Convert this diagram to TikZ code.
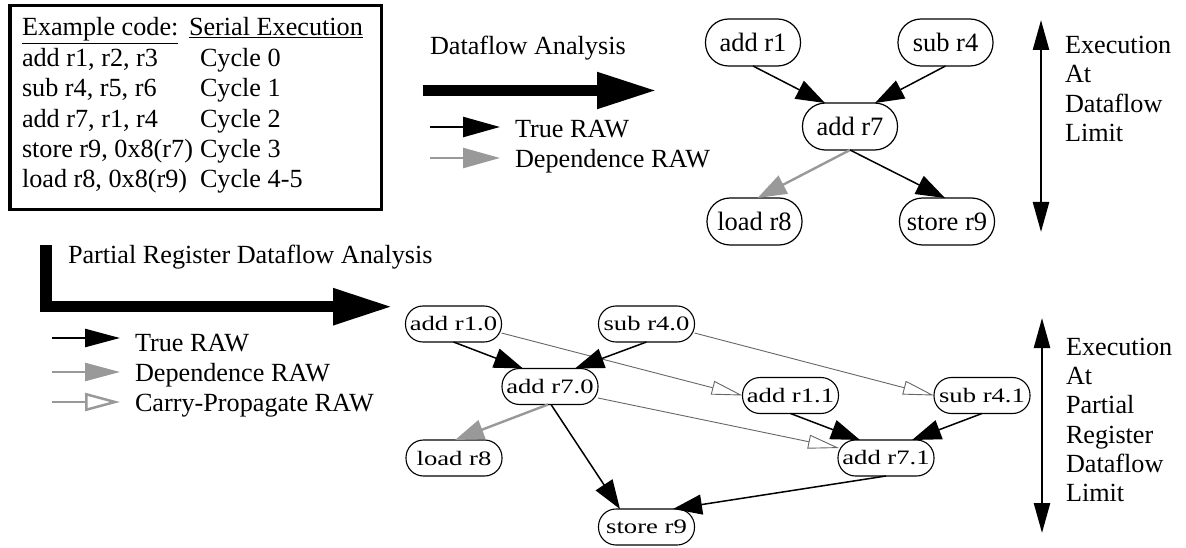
\documentclass[tikz,border=0pt]{standalone}
\usepackage{fontspec}
\setmainfont{Liberation Serif}
\usepackage{graphicx}
\usetikzlibrary{arrows.meta}
\definecolor{depgray}{gray}{0.6}
\definecolor{carrygray}{gray}{0.4}
\newcommand\sxt[1]{\scalebox{1.3}[1]{#1}}
\begin{document}
\begin{tikzpicture}[x=1pt,y=-1pt,
  every node/.style={inner sep=0pt, outer sep=0pt},
  topnode/.style={draw, line width=1.2pt, rounded corners=23pt, minimum width=95pt, minimum height=47pt, font=\fontsize{26.5}{30}\selectfont},
  botnode/.style={draw, line width=1.1pt, rounded corners=17.5pt, minimum width=96pt, minimum height=36pt, font=\fontsize{20.5}{24}\selectfont},
  lbl/.style={anchor=base west, font=\fontsize{26.2}{30}\selectfont},
  truearr/.style={line width=1.5pt, -{Triangle[length=29pt,width=20pt]}},
  deparr/.style={depgray, line width=2.4pt, -{Triangle[length=29pt,width=20pt]}},
  carryarr/.style={carrygray, line width=0.9pt, -{Triangle[open,length=31pt,width=14pt,fill=white]}},
  bigarr/.style={line width=11pt, -{Triangle[length=60pt,width=34pt]}},
  vertarr/.style={line width=2.5pt, {Triangle[length=30pt,width=16pt]}-{Triangle[length=30pt,width=16pt]}},
]
\useasboundingbox (0,0) rectangle (1186,548);

% code box
\draw[line width=3.3pt] (10,5.7) rectangle (381.5,209.5);
\node[lbl] (h1) at (22,36) {\underline{Example code:}};
\node[lbl] (h2) at (189,36) {\underline{Serial Execution}};
\node[lbl] (c1) at (22,66.4) {add r1, r2, r3};
\node[lbl] (d1) at (200,66.4) {Cycle 0};
\node[lbl] (c2) at (22,96.8) {sub r4, r5, r6};
\node[lbl] (d2) at (200,96.8) {Cycle 1};
\node[lbl] (c3) at (22,127.2) {add r7, r1, r4};
\node[lbl] (d3) at (200,127.2) {Cycle 2};
\node[lbl] (c4) at (22,157.6) {store r9, 0x8(r7)};
\node[lbl] (d4) at (200,157.6) {Cycle 3};
\node[lbl] (c5) at (22,188) {load r8, 0x8(r9)};
\node[lbl] (d5) at (200,188) {Cycle 4-5};

% top: dataflow analysis
\node[lbl] (dfa) at (430,54.5) {Dataflow Analysis};
\coordinate (ba1) at (423,90.5);
\coordinate (ba2) at (657,90.5);
\draw[bigarr] (ba1) -- (ba2);
\coordinate (lt1) at (430,127);
\coordinate (lt2) at (500,127);
\draw[line width=2.5pt, -{Triangle[length=37pt,width=20pt]}] (lt1) -- (lt2);
\node[lbl] (ltt) at (515,138) {True RAW};
\coordinate (ld1) at (430,158);
\coordinate (ld2) at (500,158);
\draw[depgray, line width=2.5pt, -{Triangle[length=37pt,width=20pt]}] (ld1) -- (ld2);
\node[lbl] (ldt) at (515,167.5) {Dependence RAW};

\node[topnode] (t1) at (753,42.5) {add r1};
\node[topnode] (t4) at (945.5,42.5) {sub r4};
\node[topnode] (t7) at (850,126.5) {add r7};
\node[topnode] (tl8) at (754.5,221.5) {load r8};
\node[topnode] (ts9) at (947,221.5) {store r9};
\draw[truearr] (t1.south) -- ([xshift=-25pt]t7.north);
\draw[truearr] (t4.south) -- ([xshift=25pt]t7.north);
\draw[deparr] (t7.south) -- ([xshift=3pt]tl8.north);
\draw[truearr] (t7.south) -- ([xshift=-2pt]ts9.north);

\coordinate (va1) at (1041,20);
\coordinate (va2) at (1041,232);
\draw[vertarr] (va1) -- (va2);
\node[lbl] (e1) at (1065,53.5) {Execution};
\node[lbl] (e2) at (1065,83) {At};
\node[lbl] (e3) at (1065,112.5) {Dataflow};
\node[lbl] (e4) at (1065,142) {Limit};

% bottom: partial register dataflow analysis
\node[lbl] (prda) at (68,263) {Partial Register Dataflow Analysis};
\coordinate (la1) at (46,245);
\coordinate (la2) at (46,306.7);
\coordinate (la3) at (393,306.7);
\draw[line width=11.5pt, miter limit=10, -{Triangle[length=60pt,width=34pt]}] (la1) -- (la2) -- (la3);

\coordinate (bt1) at (52,338);
\coordinate (bt2) at (120,338);
\draw[line width=2.5pt, -{Triangle[length=35pt,width=18pt]}] (bt1) -- (bt2);
\node[lbl] (btt) at (135,351.5) {True RAW};
\coordinate (bd1) at (52,372);
\coordinate (bd2) at (120,372);
\draw[depgray, line width=2.5pt, -{Triangle[length=35pt,width=18pt]}] (bd1) -- (bd2);
\node[lbl] (bdt) at (135,381.5) {Dependence RAW};
\coordinate (bc1) at (52,402);
\coordinate (bc2) at (120,402);
\draw[depgray, line width=2.5pt, -{Triangle[open,length=35pt,width=18pt,fill=white]}] (bc1) -- (bc2);
\node[lbl] (bct) at (135,411.5) {Carry-Propagate RAW};

\node[botnode] (b10) at (453.5,324) {\sxt{add r1.0}};
\node[botnode] (b40) at (646.5,324) {\sxt{sub r4.0}};
\node[botnode] (b70) at (550,386.5) {\sxt{add r7.0}};
\node[botnode] (bl8) at (454,458) {\sxt{load r8}};
\node[botnode] (bs9) at (646.5,527) {\sxt{store r9}};
\node[botnode] (b11) at (790.5,395.5) {\sxt{add r1.1}};
\node[botnode] (b41) at (982,395.5) {\sxt{sub r4.1}};
\node[botnode] (b71) at (886,458) {\sxt{add r7.1}};

\draw[carryarr] ([yshift=-9pt]b10.east) -- (b11.west);
\draw[carryarr] ([yshift=-9pt]b40.east) -- (b41.west);
\draw[carryarr] ([yshift=-11.5pt]b70.east) -- ([yshift=10pt,xshift=1pt]b71.west);
\draw[truearr] (b10.south) -- ([xshift=-27pt]b70.north);
\draw[truearr] (b40.south) -- ([xshift=25pt]b70.north);
\draw[deparr] ([xshift=-2pt]b70.south) -- ([xshift=1pt]bl8.north);
\draw[truearr] ([xshift=1pt]b70.south) -- ([xshift=-26.5pt]bs9.north);
\draw[truearr] (b11.south) -- ([xshift=-26pt]b71.north);
\draw[truearr] (b41.south) -- ([xshift=26pt]b71.north);
\draw[truearr] (b71.south) -- ([xshift=26.5pt]bs9.north);

\coordinate (vb1) at (1042,318);
\coordinate (vb2) at (1042,533);
\draw[vertarr] (vb1) -- (vb2);
\node[lbl] (f1) at (1066,355) {Execution};
\node[lbl] (f2) at (1066,384) {At};
\node[lbl] (f3) at (1066,413.5) {Partial};
\node[lbl] (f4) at (1066,443) {Register};
\node[lbl] (f5) at (1066,472) {Dataflow};
\node[lbl] (f6) at (1066,501) {Limit};
\end{tikzpicture}
\end{document}
